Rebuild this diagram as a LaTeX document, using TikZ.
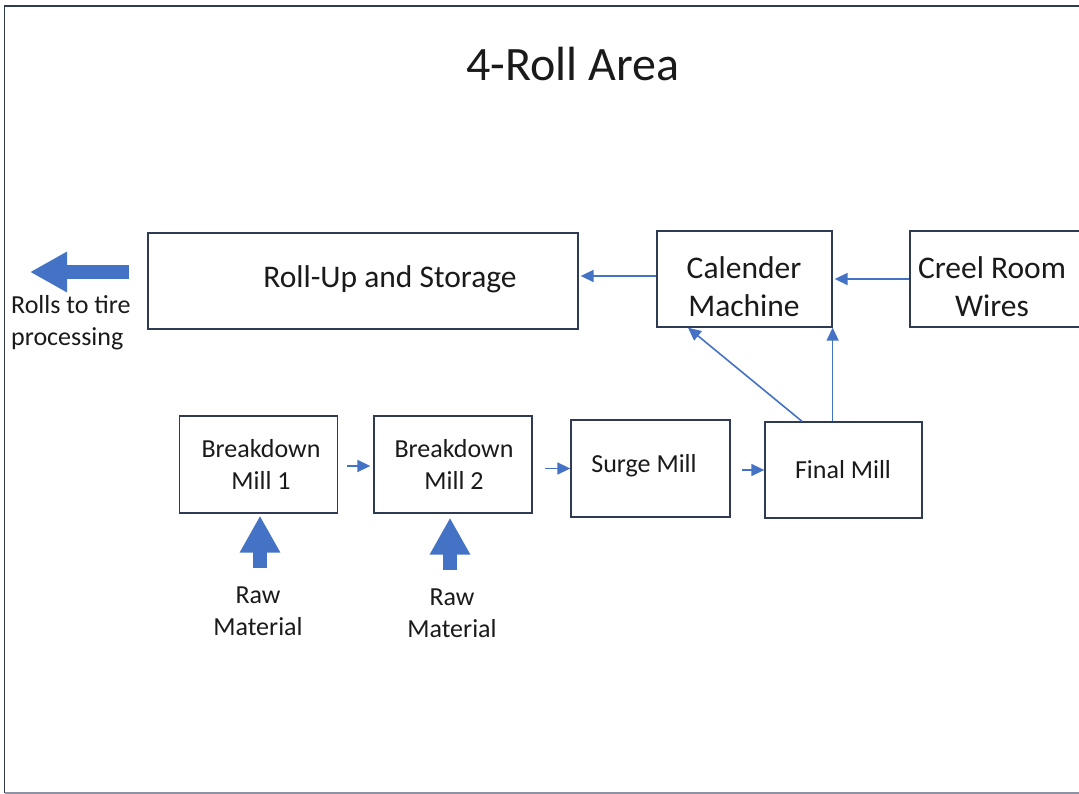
\documentclass[tikz,border=0pt]{standalone}
\usepackage{fontspec}
\setmainfont{Carlito}
\usetikzlibrary{arrows.meta}
\definecolor{boxline}{HTML}{2F3B55}
\definecolor{flow}{HTML}{4472C4}
\definecolor{ink}{HTML}{1A1A1A}
\begin{document}
\begin{tikzpicture}[x=1pt,y=-1pt,
  stage/.style={draw=boxline, line width=1.3pt, fill=white, inner sep=0pt},
  bigtext/.style={text=ink, align=center, inner sep=0pt, font=\fontsize{31.5}{38}\selectfont},
  smalltext/.style={text=ink, align=center, inner sep=0pt, font=\fontsize{26}{32}\selectfont},
  link/.style={draw=flow, line width=1.6pt, -{Triangle[length=13pt,width=12pt]}},
  feed/.style={draw=flow, line width=14pt, -{Triangle[length=37pt,width=38pt]}},
  frame/.style={draw=boxline, line width=1.6pt}]
\useasboundingbox (0,0) rectangle (1079,794);
\clip (0,0) rectangle (1079,794);

% outer frame (open to the right)
\draw[frame] (1090,6) -- (4.5,6) -- (4.5,793);
\draw[draw=boxline!55, line width=1.6pt] (4.5,793) -- (1090,793);

% title
\node[text=ink, inner sep=0pt, font=\fontsize{48}{58}\selectfont] (title) at (573,64) {4-Roll Area};

% upper row
\node[stage, minimum width=430pt, minimum height=96pt] (rollup) at (363,281) {};
\node[bigtext] (rollupT) at (390,279) {Roll-Up and Storage};
\node[stage, minimum width=175pt, minimum height=96pt] (cal) at (744.5,279) {};
\node[bigtext] (calT) at (744,287) {Calender\\Machine};
\node[stage, minimum width=180pt, minimum height=96pt] (creel) at (1000,279) {};
\node[bigtext] (creelT) at (992,287) {Creel Room\\Wires};

% lower row of mills
\node[stage, minimum width=158pt, minimum height=97pt] (bm1) at (258.5,464.5) {};
\node[smalltext] (bm1T) at (261,464) {Breakdown\\Mill 1};
\node[stage, minimum width=158pt, minimum height=97pt] (bm2) at (453,464.5) {};
\node[smalltext] (bm2T) at (454,464) {Breakdown\\Mill 2};
\node[stage, minimum width=159pt, minimum height=97pt] (surge) at (650.5,468.5) {};
\node[smalltext] (surgeT) at (644,466) {Surge Mill};
\node[stage, minimum width=157pt, minimum height=96pt] (final) at (843.5,470) {};
\node[smalltext] (finalT) at (843,470) {Final Mill};

% side labels
\node[smalltext, align=left, anchor=west] (outT) at (11,323) {Rolls to tire\\processing};
\node[smalltext] (raw1) at (258,611) {Raw\\Material};
\node[smalltext] (raw2) at (452,613) {Raw\\Material};

% free ends of the block arrows
\coordinate (outTip) at (30,272);
\coordinate (raw1Base) at (260,568);
\coordinate (raw2Base) at (450,570);

% material flow
\draw[link, shorten <=9pt, shorten >=3pt] ([yshift=-1.5pt]bm1.east) -- ([yshift=-1.5pt]bm2.west);
\draw[link, shorten <=12pt] (bm2.east |- surge.west) -- (surge.west);
\draw[link, shorten <=11pt] (surge.east |- final.west) -- (final.west);
\draw[link] ([xshift=-41.5pt]final.north) -- ([xshift=-56.5pt]cal.south);
\draw[link] (final.north -| cal.south east) -- (cal.south east);
\draw[link, shorten >=2pt] (creel.west) -- (cal.east);
\draw[link, shorten >=2pt] ([yshift=3pt]cal.west) -- ([yshift=3pt]cal.west -| rollup.east);

% block arrows
\draw[feed, shorten <=18pt] ([yshift=9pt]rollup.west) -- (outTip);
\draw[feed, shorten >=2pt] (raw1Base) -- (raw1Base |- bm1.south);
\draw[feed, shorten >=4pt] (raw2Base) -- (raw2Base |- bm2.south);
\end{tikzpicture}
\end{document}
